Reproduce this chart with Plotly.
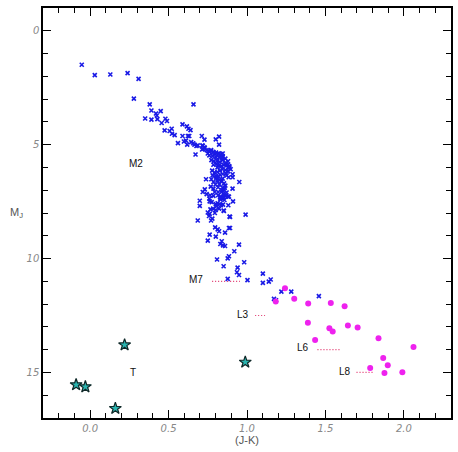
import plotly.graph_objects as go

# Blue crosses: M dwarfs (J-K, M_J)
m_jk = [-0.053, 0.030, 0.129, 0.239, 0.309, 0.279, 0.659, 0.380, 0.391, 0.420, 0.425, 0.450, 0.351, 0.391,
        0.429, 0.456, 0.480, 0.490, 0.475, 0.507, 0.520, 0.522, 0.539, 0.560, 0.589, 0.617, 0.627, 0.640,
        0.589, 0.623, 0.632, 0.598, 0.611, 0.619, 0.644, 0.657, 0.665, 0.678, 0.686, 0.672, 0.712, 0.729,
        0.716, 0.729, 0.720, 0.758, 0.771, 0.784, 0.750, 0.792, 0.813, 0.801, 0.822, 0.822,
        0.718, 0.731, 0.714, 0.743, 0.760, 0.771, 0.786, 0.803, 0.820, 0.837, 0.760, 0.781, 0.803, 0.824,
        0.845, 0.773, 0.790, 0.811, 0.828, 0.845, 0.862, 0.879, 0.870, 0.854, 0.837, 0.820, 0.803, 0.786,
        0.887, 0.896, 0.879, 0.862, 0.845, 0.828, 0.811, 0.794, 0.778, 0.781, 0.803, 0.828, 0.845, 0.870,
        0.883, 0.739, 0.773, 0.786, 0.811, 0.837, 0.845, 0.854, 0.824, 0.799, 0.951, 0.908,
        0.769, 0.786, 0.816, 0.845, 0.854, 0.837, 0.816, 0.794, 0.908, 0.731, 0.718, 0.743, 0.765, 0.760,
        0.786, 0.816, 0.828, 0.854, 0.845, 0.879,
        0.699, 0.699, 0.762, 0.775, 0.801, 0.813, 0.826, 0.834, 0.847, 0.856, 0.851, 0.834, 0.864, 0.881,
        0.911, 0.885, 0.767, 0.784, 0.801, 0.822, 0.851, 0.750, 0.762, 0.758, 0.779, 0.771, 0.686, 0.889,
        0.991, 0.797, 0.813, 0.822, 0.860, 0.885, 0.762, 0.801, 0.750, 0.839, 0.830, 0.847, 0.860, 0.949,
        0.919, 0.885, 0.877, 0.809, 0.851, 0.940, 0.982, 0.936, 0.949, 0.877, 1.003, 1.101, 1.101, 1.139,
        1.151, 1.219, 1.282, 1.172, 1.185, 1.458,
        0.845, 0.845, 0.866, 0.877, 0.887, 0.908, 0.892, 0.853, 0.892, 0.862, 0.887, 0.803, 0.824,
        0.862, 0.840, 0.850, 0.830, 0.805, 0.795, 0.870, 0.865, 0.812, 0.842, 0.858, 0.832, 0.818]
m_mj = [1.49, 1.95, 1.92, 1.86, 2.11, 2.98, 3.23, 3.23, 3.50, 3.63, 3.72, 3.53, 3.85, 3.90,
        3.88, 4.05, 3.86, 3.96, 4.37, 4.40, 4.30, 4.52, 4.58, 4.93, 4.11, 4.20, 4.30, 4.36,
        4.62, 4.62, 4.62, 4.86, 4.82, 5.00, 4.89, 4.94, 5.00, 5.06, 5.03, 5.43, 4.62, 4.78,
        5.03, 5.12, 5.18, 5.29, 5.26, 5.32, 5.39, 5.39, 5.41, 4.77, 4.65, 5.00,
        5.06, 5.15, 5.21, 5.24, 5.29, 5.24, 5.32, 5.35, 5.38, 5.41, 5.47, 5.50, 5.56, 5.56,
        5.50, 5.68, 5.73, 5.70, 5.76, 5.68, 5.61, 5.73, 5.90, 5.88, 5.94, 5.91, 5.85, 5.88,
        5.94, 6.08, 6.17, 6.11, 6.08, 6.14, 6.20, 6.23, 6.14, 6.35, 6.38, 6.32, 6.29, 6.35,
        6.43, 6.52, 6.52, 6.64, 6.58, 6.61, 6.49, 6.70, 6.73, 6.75, 6.64, 6.43,
        6.84, 6.93, 6.87, 6.90, 6.99, 7.08, 7.08, 7.08, 6.93, 6.96, 7.08, 7.17, 7.22, 7.37,
        7.25, 7.22, 7.31, 7.22, 7.37, 7.28,
        7.46, 7.69, 7.49, 7.52, 7.61, 7.57, 7.61, 7.66, 7.63, 7.43, 7.31, 7.28, 7.25, 7.66,
        7.49, 7.28, 7.84, 7.81, 7.87, 7.81, 7.89, 7.98, 8.04, 8.13, 8.25, 8.33, 8.33, 8.16,
        8.07, 8.63, 8.72, 8.80, 8.86, 8.66, 8.95, 9.04, 9.21, 9.24, 9.36, 9.42, 9.45, 9.39,
        9.68, 9.90, 9.99, 10.04, 10.34, 10.40, 10.16, 10.60, 10.72, 10.89, 10.95, 10.66, 11.07, 11.01,
        10.92, 11.45, 11.45, 11.77, 11.83, 11.65,
        5.39, 5.54, 5.80, 5.90, 5.98, 6.30, 8.17, 7.91, 8.66, 5.85, 6.02, 6.45, 6.55,
        6.80, 7.00, 7.15, 7.40, 7.70, 8.00, 7.10, 6.25, 6.00, 5.60, 6.90, 7.35, 6.40]

# Magenta dots: L dwarfs
l_jk = [1.242, 1.183, 1.301, 1.390, 1.534, 1.622, 1.388, 1.525, 1.546, 1.643, 1.705, 1.434, 1.838,
        2.061, 1.868, 1.897, 1.785, 1.876, 1.990]
l_mj = [11.30, 11.89, 11.77, 11.97, 11.95, 12.09, 12.82, 13.06, 13.20, 12.94, 13.03, 13.58, 13.50,
        13.88, 14.37, 14.68, 14.80, 15.02, 14.99]

# Stars: T dwarfs
t_jk = [0.220, -0.089, -0.030, 0.161, 0.989]
t_mj = [13.79, 15.54, 15.63, 16.58, 14.55]

# Spectral-type labels and dotted markers
sp_labels = ["M2", "M7", "L3", "L6", "L8", "T"]
sp_lab_x = [0.292, 0.672, 0.976, 1.356, 1.627, 0.275]
sp_lab_y = [5.81, 10.90, 12.47, 13.92, 14.95, 15.0]
seg_x0 = [0.778, 1.052, 1.449, 1.698]
seg_x1 = [0.955, 1.115, 1.601, 1.804]
seg_y = [11.0, 12.5, 14.0, 15.0]

x_ticks = [0.0, 0.5, 1.0, 1.5, 2.0]
x_ticklabels = ["0.0", "0.5", "1.0", "1.5", "2.0"]
y_ticks = [0, 5, 10, 15]
y_ticklabels = ["0", "5", "10", "15"]

fig = go.Figure()

for x0, x1, y in zip(seg_x0, seg_x1, seg_y):
    fig.add_trace(go.Scatter(x=[x0, x1], y=[y, y], mode="lines",
                             line=dict(color="#e0306a", width=1.2, dash="1px,2px"),
                             showlegend=False, hoverinfo="skip"))

fig.add_trace(go.Scatter(x=m_jk, y=m_mj, mode="markers",
                         marker=dict(symbol="x-thin", size=4, color="#1a1ae6",
                                     line=dict(color="#1a1ae6", width=1.6)),
                         showlegend=False))
fig.add_trace(go.Scatter(x=l_jk, y=l_mj, mode="markers",
                         marker=dict(symbol="circle", size=6, color="#ee22ee"),
                         showlegend=False))
fig.add_trace(go.Scatter(x=t_jk, y=t_mj, mode="markers",
                         marker=dict(symbol="star", size=9, color="#2ab5b0",
                                     line=dict(color="#102828", width=1.2)),
                         showlegend=False))

for lab, x, y in zip(sp_labels, sp_lab_x, sp_lab_y):
    fig.add_annotation(x=x, y=y, text=lab, showarrow=False,
                       font=dict(family="Liberation Sans", size=10, color="#111111"))

fig.add_annotation(x=-0.085, y=0.5, xref="paper", yref="paper", text="M<sub>J</sub>",
                   showarrow=False, font=dict(family="Liberation Sans", size=11, color="#555555"))

axis_common = dict(showgrid=False, zeroline=False, showline=True, linecolor="black", linewidth=1.5,
                   mirror="allticks", ticks="inside", tickcolor="black", tickwidth=1.2, ticklen=8,
                   tickfont=dict(family="DejaVu Sans", size=10, color="#888888", style="italic"))

fig.update_xaxes(range=[-0.3, 2.3], tickvals=x_ticks, ticktext=x_ticklabels,
                 minor=dict(dtick=0.1, ticks="inside", ticklen=5, tickcolor="black", tickwidth=1),
                 title=dict(text="(J-K)", font=dict(family="Liberation Sans", size=11, color="#555555"),
                            standoff=4),
                 **axis_common)
fig.update_yaxes(range=[17, -1], tickvals=y_ticks, ticktext=y_ticklabels,
                 minor=dict(dtick=1, ticks="inside", ticklen=5, tickcolor="black", tickwidth=1),
                 **axis_common)

fig.update_layout(width=458, height=452, margin=dict(l=43, r=5, t=8, b=34),
                  plot_bgcolor="white", paper_bgcolor="white")

fig.write_html("out.html")
